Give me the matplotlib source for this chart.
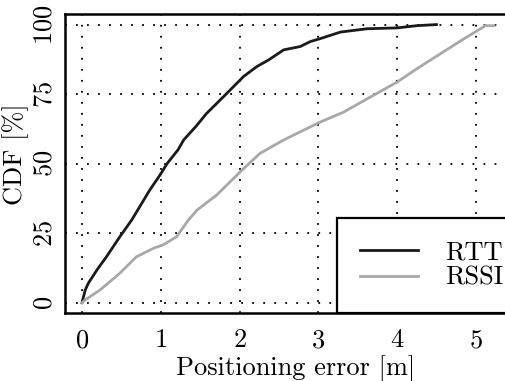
"""CDF of positioning error for RTT and RSSI ranging."""
from __future__ import annotations

import matplotlib

matplotlib.use("Agg")
import matplotlib.pyplot as plt

RTT_ERROR = [0.0, 0.04, 0.08, 0.19, 0.31, 0.48, 0.63, 0.76, 0.86, 0.99, 1.08, 1.22, 1.29, 1.45,
             1.58, 1.84, 2.05, 2.22, 2.37, 2.56, 2.77, 2.9, 3.02, 3.28, 3.62, 4.0, 4.25, 4.5]
RTT_CDF = [0.0, 4.5, 7.0, 11.8, 16.5, 23.7, 29.7, 35.8, 40.5, 45.9, 50.0, 55.0, 58.5, 63.5,
           68.0, 75.3, 81.3, 84.9, 87.3, 90.9, 92.1, 93.9, 94.9, 97.3, 98.5, 98.8, 99.6, 100.0]

RSSI_ERROR = [0.0, 0.04, 0.23, 0.48, 0.69, 0.91, 1.03, 1.2, 1.35, 1.46, 1.71, 2.01, 2.26,
              2.56, 3.02, 3.32, 3.62, 4.0, 4.25, 4.55, 4.85, 5.06, 5.12, 5.23]
RSSI_CDF = [0.0, 1.0, 4.6, 10.6, 16.5, 19.6, 20.8, 23.7, 29.7, 33.3, 38.7, 47.1, 53.7,
            58.5, 64.9, 68.5, 73.3, 79.3, 84.1, 89.5, 94.9, 98.5, 99.6, 99.6]

X_TICKS = [0, 1, 2, 3, 4, 5]
Y_TICKS = [0, 25, 50, 75, 100]

plt.rcParams["font.family"] = "cmr10"
plt.rcParams["axes.formatter.use_mathtext"] = True
plt.rcParams["font.size"] = 19


def main() -> int:
    fig = plt.figure(figsize=(5.06, 3.81), dpi=100)
    ax = fig.add_axes([65 / 506, 1 - 313 / 381, 462 / 506, 299 / 381])

    ax.plot(RTT_ERROR, RTT_CDF, color="#1a1a1a", linewidth=2.0, label="RTT")
    ax.plot(RSSI_ERROR, RSSI_CDF, color="#a8a8a8", linewidth=2.0, label="RSSI")

    ax.set_xlim(-0.216, 5.65)
    ax.set_ylim(-3.7, 103.8)
    ax.set_xticks(X_TICKS)
    ax.set_yticks(Y_TICKS)
    ax.tick_params(length=0)
    ax.tick_params(axis="x", pad=11)
    ax.tick_params(axis="y", pad=6)
    for label in ax.get_yticklabels():
        label.set_rotation(90)
        label.set_va("center")
    ax.grid(True, color="black", linestyle=(0, (1, 5.1)), linewidth=1.3)
    for spine in ax.spines.values():
        spine.set_linewidth(1.8)

    ax.set_xlabel("Positioning error [m]", labelpad=2)
    ax.set_ylabel("CDF [%]")
    ax.yaxis.set_label_coords(-0.078, 0.53)

    legend = ax.legend(
        loc="lower right",
        bbox_to_anchor=(1.0, 0.0),
        borderaxespad=0.0,
        fancybox=False,
        framealpha=1.0,
        edgecolor="black",
        handlelength=2.2,
        handletextpad=1.05,
        borderpad=0.88,
        labelspacing=0.05,
    )
    legend.get_frame().set_linewidth(1.6)

    fig.savefig("out.png", dpi=100)
    plt.close(fig)
    return 0


if __name__ == "__main__":
    raise SystemExit(main())
